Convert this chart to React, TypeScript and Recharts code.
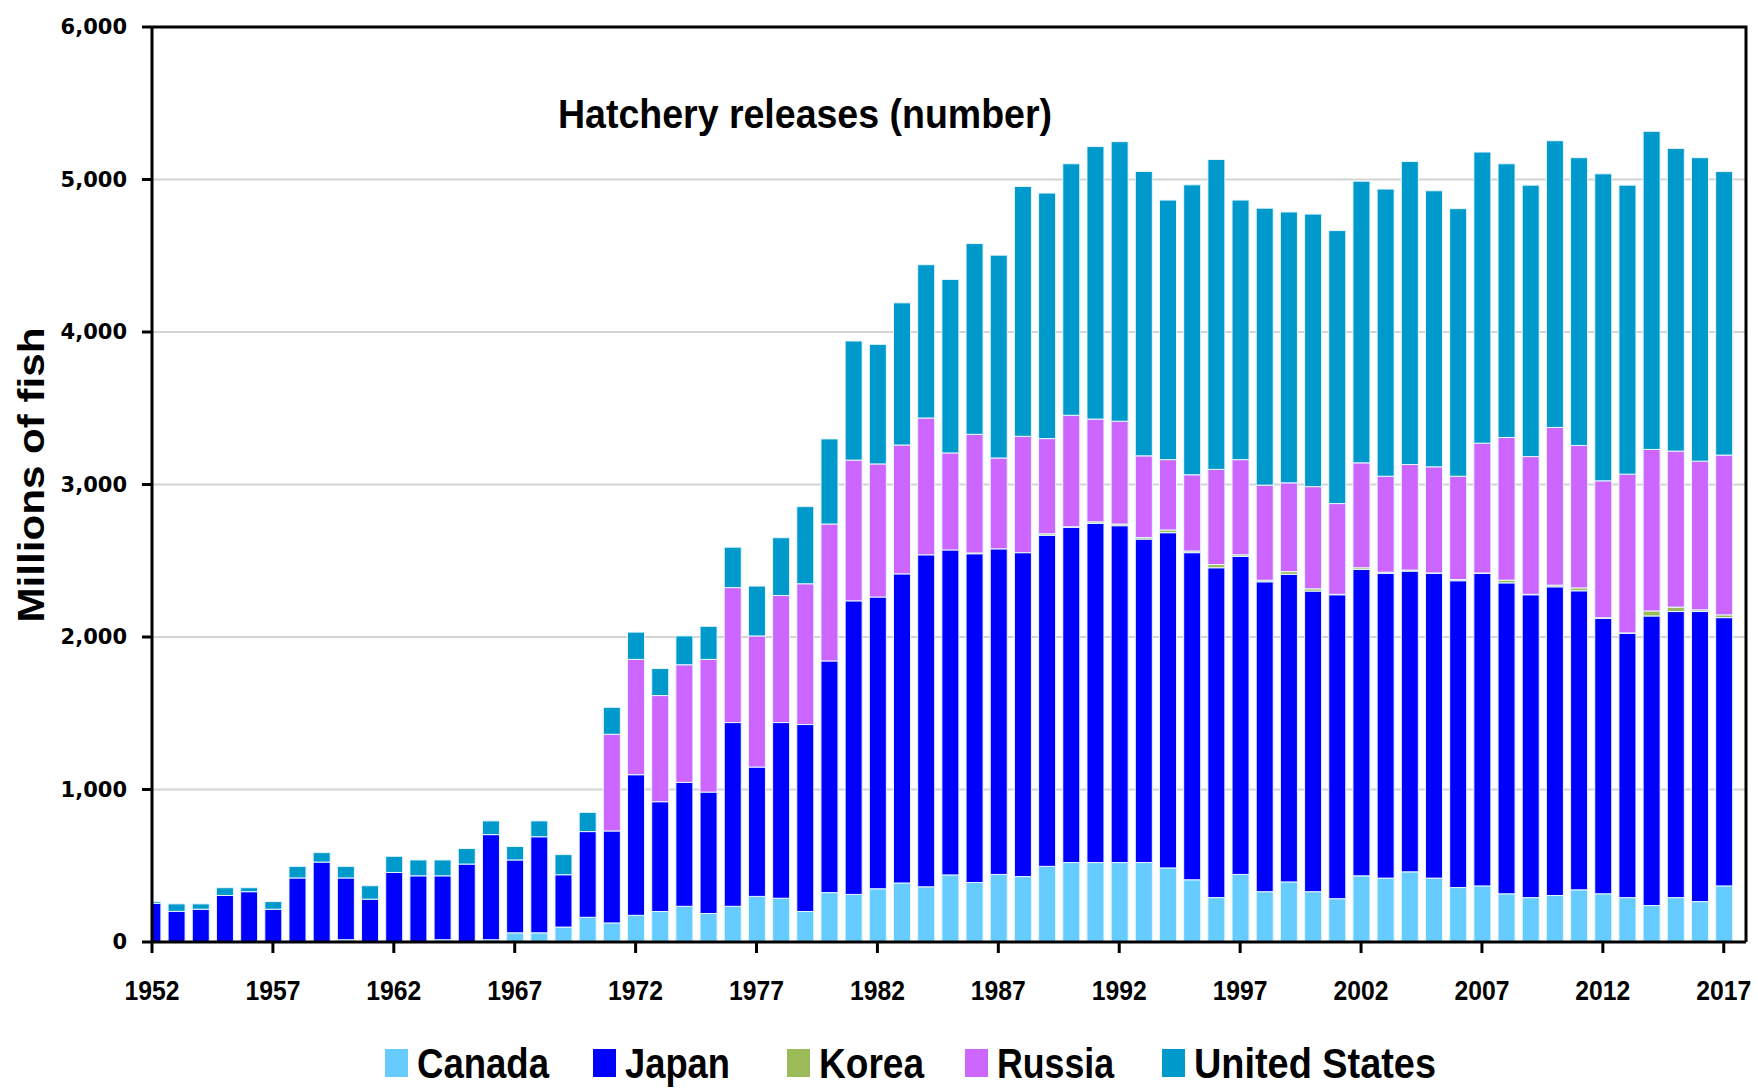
import { Bar, BarChart, CartesianGrid, XAxis, YAxis } from "recharts";

const YEARS = Array.from({ length: 66 }, (_, i) => 1952 + i);

const CANADA = [
  0, 0, 0, 0, 0, 0, 0, 0, 15, 0,
  0, 0, 15, 0, 15, 60, 60, 98, 162, 125,
  175, 200, 234, 187, 234, 299, 287, 200, 324, 312,
  349, 387, 362, 440, 390, 443, 429, 496, 521, 521,
  521, 521, 486, 408, 291, 443, 330, 394, 330, 284,
  434, 419, 460, 419, 357, 368, 316, 291, 305, 342,
  316, 291, 239, 291, 265, 368,
];

const JAPAN = [
  254, 201, 215, 305, 330, 215, 420, 524, 405, 281,
  456, 434, 419, 511, 689, 478, 630, 343, 562, 603,
  922, 720, 813, 796, 1205, 848, 1152, 1226, 1519, 1925,
  1913, 2027, 2177, 2131, 2156, 2135, 2124, 2171, 2199, 2224,
  2209, 2121, 2198, 2145, 2163, 2085, 2032, 2017, 1971, 1993,
  2009, 1998, 1972, 1998, 2012, 2049, 2039, 1986, 2024, 1961,
  1807, 1733, 1899, 1876, 1902, 1759,
];

const KOREA = [
  0, 0, 0, 0, 0, 0, 0, 0, 0, 0,
  0, 0, 0, 0, 0, 0, 0, 0, 0, 0,
  0, 0, 0, 0, 0, 0, 0, 0, 0, 0,
  0, 0, 0, 0, 5, 0, 0, 10, 3, 10,
  11, 10, 18, 11, 21, 11, 10, 18, 15, 3,
  11, 8, 7, 3, 8, 3, 18, 3, 11, 19,
  3, 3, 33, 29, 11, 18,
];

const RUSSIA = [
  0, 0, 0, 0, 0, 0, 0, 0, 0, 0,
  0, 0, 0, 0, 0, 0, 0, 0, 0, 634,
  756, 696, 771, 870, 885, 860, 833, 923, 898, 923,
  873, 845, 897, 636, 778, 596, 763, 624, 731, 674,
  674, 536, 461, 500, 624, 624, 624, 582, 670, 595,
  688, 629, 692, 696, 677, 851, 935, 903, 1034, 934,
  898, 1041, 1059, 1023, 975, 1048,
];

const UNITED_STATES = [
  11, 49, 35, 51, 26, 50, 76, 62, 76, 88,
  106, 104, 104, 102, 90, 88, 104, 132, 126, 177,
  179, 177, 189, 217, 265, 327, 379, 506, 558, 781,
  784, 932, 1005, 1138, 1251, 1330, 1638, 1610, 1649, 1787,
  1833, 1865, 1702, 1901, 2032, 1702, 1816, 1776, 1787, 1790,
  1847, 1883, 1987, 1810, 1755, 1909, 1795, 1780, 1880, 1887,
  2013, 1895, 2086, 1985, 1990, 1859,
];

const X_TICKS = [1952, 1957, 1962, 1967, 1972, 1977, 1982, 1987, 1992, 1997, 2002, 2007, 2012, 2017];
const Y_TICKS = [0, 1000, 2000, 3000, 4000, 5000, 6000];

const SERIES = [
  { key: "Canada", color: "#66CCFF" },
  { key: "Japan", color: "#0000FF" },
  { key: "Korea", color: "#9BBB59" },
  { key: "Russia", color: "#CC66FF" },
  { key: "United States", color: "#0099CC" },
];

const data = YEARS.map((year, i) => ({
  year,
  Canada: CANADA[i],
  Japan: JAPAN[i],
  Korea: KOREA[i],
  Russia: RUSSIA[i],
  "United States": UNITED_STATES[i],
}));

const FONT = '"Liberation Sans", Arial, sans-serif';

// legend placement (left of swatch, text width)
const LEGEND_X = [385, 593, 787, 965, 1162];
const LEGEND_W = [132, 105, 105, 117, 242];

// year labels are squeezed like the original's condensed font
function YearTick({ x, y, payload }: { x?: number; y?: number; payload?: { value: number } }) {
  return (
    <text
      x={x}
      y={(y ?? 0) + 24}
      textAnchor="middle"
      textLength={55}
      lengthAdjust="spacingAndGlyphs"
      fontFamily={FONT}
      fontWeight={700}
      fontSize={28}
      fill="#000"
    >
      {payload?.value}
    </text>
  );
}

export default function App() {
  return (
    <div style={{ position: "absolute", left: 0, top: 0, width: 1758, height: 1089, background: "#fff" }}>
      <BarChart
        width={1758}
        height={1089}
        data={data}
        margin={{ top: 27, right: 12, left: 0, bottom: 87 }}
      >
        <CartesianGrid stroke="#d4d4d4" strokeWidth={2} vertical={false} />
        <XAxis
          dataKey="year"
          type="number"
          domain={[1952, 2017.92]}
          allowDataOverflow
          ticks={X_TICKS}
          interval={0}
          height={60}
          axisLine={{ stroke: "#000", strokeWidth: 3 }}
          tickLine={{ stroke: "#000", strokeWidth: 3 }}
          tickSize={11}
          tickMargin={23}
          tick={<YearTick />}
        />
        <YAxis
          domain={[0, 6000]}
          ticks={Y_TICKS}
          width={152}
          axisLine={{ stroke: "#000", strokeWidth: 3 }}
          tickLine={{ stroke: "#000", strokeWidth: 3 }}
          tickSize={10}
          tickMargin={15}
          tickFormatter={(v: number) => v.toLocaleString("en-US")}
          tick={{ fill: "#000", fontSize: 21, fontWeight: 700, fontFamily: '"DejaVu Sans", sans-serif' }}
        />
        {SERIES.map((s) => (
          <Bar
            key={s.key}
            dataKey={s.key}
            stackId="a"
            fill={s.color}
            stroke="#e6f7ff"
            strokeWidth={1}
            barSize={17}
            isAnimationActive={false}
          />
        ))}
      </BarChart>
      <svg
        width={1758}
        height={1089}
        style={{ position: "absolute", left: 0, top: 0, pointerEvents: "none" }}
      >
        <path d="M152 27 H1746 V942" fill="none" stroke="#000" strokeWidth={3} />
        <text
          x={558}
          y={128}
          textLength={494}
          lengthAdjust="spacingAndGlyphs"
          fontFamily={FONT}
          fontWeight={700}
          fontSize={41}
          fill="#000"
        >
          Hatchery releases (number)
        </text>
        <text
          x={44}
          y={475}
          transform="rotate(-90 44 475)"
          textAnchor="middle"
          textLength={295}
          lengthAdjust="spacingAndGlyphs"
          fontFamily={FONT}
          fontWeight={700}
          fontSize={36}
          fill="#000"
        >
          Millions of fish
        </text>
        {SERIES.map((s, i) => (
          <g key={s.key}>
            <rect x={LEGEND_X[i]} y={1049} width={23} height={28} fill={s.color} />
            <text
              x={LEGEND_X[i] + 32}
              y={1078}
              textLength={LEGEND_W[i]}
              lengthAdjust="spacingAndGlyphs"
              fontFamily={FONT}
              fontWeight={700}
              fontSize={43}
              fill="#000"
            >
              {s.key}
            </text>
          </g>
        ))}
      </svg>
    </div>
  );
}
